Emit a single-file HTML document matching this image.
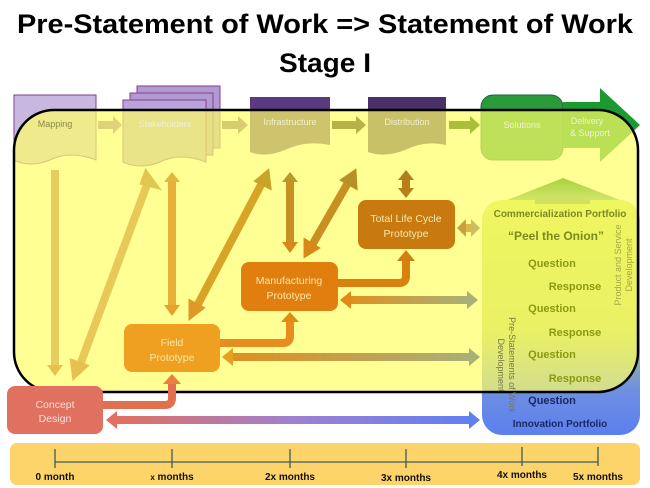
<!DOCTYPE html>
<html><head><meta charset="utf-8"><style>
html,body{margin:0;padding:0;background:#fff;}
svg{display:block;font-family:"Liberation Sans",sans-serif;}
</style></head><body>
<svg width="650" height="488" viewBox="0 0 650 488" xmlns="http://www.w3.org/2000/svg">
<defs>
<linearGradient id="port" x1="0" y1="0" x2="0" y2="1">
<stop offset="0" stop-color="#c8e050"/><stop offset="0.55" stop-color="#b8d060"/><stop offset="0.8" stop-color="#7090e0"/><stop offset="1" stop-color="#5b7ff0"/></linearGradient>
<linearGradient id="cp" x1="0" y1="0" x2="1" y2="0"><stop offset="0" stop-color="#e07060"/><stop offset="0.5" stop-color="#a080d0"/><stop offset="1" stop-color="#6080f0"/></linearGradient>
<linearGradient id="hz" x1="0" y1="0" x2="1" y2="0"><stop offset="0" stop-color="#e09020"/><stop offset="1" stop-color="#a8b078"/></linearGradient>
<linearGradient id="garr" x1="0" y1="0" x2="0" y2="1"><stop offset="0" stop-color="#a8d040"/><stop offset="1" stop-color="#d8ea70"/></linearGradient>
</defs>

<text x="325" y="33" text-anchor="middle" font-size="27" font-weight="bold" textLength="616" lengthAdjust="spacingAndGlyphs">Pre-Statement of Work =&gt; Statement of Work</text>
<text x="325" y="72" text-anchor="middle" font-size="27" font-weight="bold" textLength="92" lengthAdjust="spacingAndGlyphs">Stage I</text>

<path d="M14,95 H96 V160 Q70,150 50,160 Q30,168 14,160 Z" fill="#c8b8e0" stroke="#8a3a9a" stroke-width="1"/>
<path d="M137,86 H220 V148 H137 Z" fill="#b09ad0" stroke="#8a3a9a"/>
<path d="M130,93 H213 V155 H130 Z" fill="#b09ad0" stroke="#8a3a9a"/>
<path d="M123,100 H206 V162 Q180,152 160,162 Q140,170 123,162 Z" fill="#b8a4d8" stroke="#8a3a9a"/>
<path d="M250,97 H330 V145 Q305,140 285,150 Q265,158 250,152 Z" fill="#5a3a80"/>
<path d="M368,97 H446 V145 Q425,140 405,150 Q385,158 368,152 Z" fill="#4a3068"/>
<rect x="481" y="95" width="82" height="65" rx="12" fill="#2a9a3a" stroke="#1a6a3a"/>
<polygon points="563,102 600,102 600,88 640,125 600,162 600,148 563,148" fill="#1a9a30"/>

<rect x="482" y="200" width="158" height="235" rx="20" fill="url(#port)"/>

<rect x="14" y="110" width="624" height="282" rx="40" fill="#ffff66" fill-opacity="0.7" stroke="#000" stroke-width="2.5"/>

<polygon points="507,200 563,178 620,200 590,200 590,204 535,204 535,200" fill="url(#garr)"/>
<rect x="535" y="198" width="55" height="6" fill="#d0e060"/>

<g font-weight="bold" text-anchor="middle">
<text x="560" y="217" font-size="10" fill="#7a8a20">Commercialization Portfolio</text>
<text x="556" y="240" font-size="12" fill="#7a8a20">“Peel the Onion”</text>
<text x="552" y="267" font-size="11" fill="#8a9a10">Question</text>
<text x="575" y="290" font-size="11" fill="#8a9a10">Response</text>
<text x="552" y="312" font-size="11" fill="#8a9a10">Question</text>
<text x="575" y="336" font-size="11" fill="#8a9a10">Response</text>
<text x="552" y="358" font-size="11" fill="#8a9a10">Question</text>
<text x="575" y="382" font-size="11" fill="#8a9a10">Response</text>
<text x="552" y="404" font-size="11" fill="#1a2a60">Question</text>
<text x="560" y="427" font-size="10" fill="#1a2a60">Innovation Portfolio</text>
</g>
<g font-size="9" fill="#a8a840">
<text transform="translate(621,265) rotate(-90)" text-anchor="middle">Product and Service</text>
<text transform="translate(632,265) rotate(-90)" text-anchor="middle">Development</text>
</g>
<g font-size="9" fill="#7a7a40">
<text transform="translate(509,365) rotate(90)" text-anchor="middle">Pre-Statements of Work</text>
<text transform="translate(498,365) rotate(90)" text-anchor="middle">Development</text>
</g>

<g font-size="9" fill="#8a8a40">
<text x="55" y="127" text-anchor="middle">Mapping</text>
</g>
<g font-size="9" fill="#f0f0d0" text-anchor="middle">
<text x="165" y="127">Stakeholders</text>
<text x="290" y="125">Infrastructure</text>
<text x="407" y="125">Distribution</text>
<text x="522" y="128">Solutions</text>
<text x="587" y="124">Delivery</text>
<text x="590" y="136">&amp; Support</text>
</g>

<polygon points="98,121 113,121 113,116 122,125 113,134 113,129 98,129" fill="#e0d278"/>
<polygon points="222,121 238,121 238,116 248,125 238,134 238,129 222,129" fill="#d8cc70"/>
<polygon points="332,121 356,121 356,116 366,125 356,134 356,129 332,129" fill="#b8b048"/>
<polygon points="449,121 470,121 470,116 480,125 470,134 470,129 449,129" fill="#a8c038"/>

<g stroke-width="8" fill="none">
<line x1="55" y1="170" x2="55" y2="365" stroke="#e8cc60"/>
<polygon points="47,365 63,365 55,376" fill="#e8c050" stroke="none"/>
<line x1="148" y1="182" x2="80" y2="365" stroke="#e8c858"/>
<polygon points="146,172 157,187 142,183" fill="#e0c850" stroke="#e0c850" stroke-width="4"/>
<polygon points="74,377 72,361 86,366" fill="#e8c050" stroke="#e8c050" stroke-width="4"/>
<line x1="172" y1="180" x2="172" y2="307" stroke="#e8b038"/>
<polygon points="164,182 180,182 172,172" fill="#e0b840" stroke="none"/>
<polygon points="164,305 180,305 172,316" fill="#e8a030" stroke="none"/>
<line x1="263" y1="181" x2="196" y2="308" stroke="#d8a428"/>
<polygon points="268,171 270,188 256,181" fill="#c8a428" stroke="#c8a428" stroke-width="3"/>
<polygon points="190,318 190,301 203,308" fill="#e09828" stroke="#e09828" stroke-width="3"/>
<line x1="290" y1="180" x2="290" y2="244" stroke="#c89020"/>
<polygon points="282,182 298,182 290,172" fill="#b89828" stroke="none"/>
<polygon points="282,242 298,242 290,253" fill="#d88818" stroke="none"/>
<line x1="349" y1="181" x2="311" y2="247" stroke="#c89020"/>
<polygon points="355,171 356,188 342,180" fill="#b89028" stroke="#b89028" stroke-width="3"/>
<polygon points="305,256 305,240 318,248" fill="#d88818" stroke="#d88818" stroke-width="3"/>
<line x1="406" y1="178" x2="406" y2="190" stroke="#b88018"/>
<polygon points="398,180 414,180 406,170" fill="#b08020" stroke="none"/>
<polygon points="398,188 414,188 406,198" fill="#b88018" stroke="none"/>
<rect x="464" y="224" width="9" height="8" fill="#d8b848" stroke="none"/>
<polygon points="466,219 466,237 457,228" fill="#c8a040" stroke="none"/>
<polygon points="471,219 471,237 480,228" fill="#c8c060" stroke="none"/>
<rect x="350" y="296" width="118" height="8" fill="url(#hz)" stroke="none"/>
<polygon points="351,291 351,309 340,300" fill="#e08818" stroke="none"/>
<polygon points="467,291 467,309 478,300" fill="#a8b078" stroke="none"/>
<rect x="232" y="353" width="238" height="8" fill="url(#hz)" stroke="none"/>
<polygon points="233,348 233,366 222,357" fill="#e8a020" stroke="none"/>
<polygon points="469,348 469,366 480,357" fill="#a8b078" stroke="none"/>
<rect x="116" y="416" width="354" height="8" fill="url(#cp)" stroke="none"/>
<polygon points="117,411 117,429 106,420" fill="#e07060" stroke="none"/>
<polygon points="469,411 469,429 480,420" fill="#6080f0" stroke="none"/>
<path d="M103,405 H165 Q172,405 172,398 V382" stroke="#e07050"/>
<polygon points="163,384 181,384 172,374" fill="#e88040" stroke="none"/>
<path d="M220,343 H283 Q290,343 290,336 V320" stroke="#e88c20"/>
<polygon points="281,322 299,322 290,312" fill="#e08a18" stroke="none"/>
<path d="M337,283 H399 Q406,283 406,276 V259" stroke="#d88010"/>
<polygon points="397,261 415,261 406,250" fill="#d08010" stroke="none"/>
</g>

<rect x="358" y="200" width="97" height="49" rx="8" fill="#c87a10"/>
<rect x="241" y="262" width="97" height="49" rx="8" fill="#e07e10"/>
<rect x="124" y="324" width="96" height="48" rx="8" fill="#f0a020"/>
<rect x="7" y="386" width="96" height="48" rx="8" fill="#e07060"/>
<g font-size="10.5" fill="#f8e8a8" text-anchor="middle">
<text x="406" y="222">Total Life Cycle</text>
<text x="406" y="237">Prototype</text>
<text x="289" y="284">Manufacturing</text>
<text x="289" y="299">Prototype</text>
<text x="172" y="346">Field</text>
<text x="172" y="361">Prototype</text>
<text x="55" y="408" fill="#f8e0d8">Concept</text>
<text x="55" y="422" fill="#f8e0d8">Design</text>
</g>

<rect x="10" y="443" width="630" height="42" rx="7" fill="#fcd46a"/>
<g stroke="#3a5a60" stroke-width="1.3">
<line x1="55" y1="462" x2="598" y2="462"/>
<line x1="55" y1="449" x2="55" y2="468"/>
<line x1="172" y1="449" x2="172" y2="468"/>
<line x1="290" y1="449" x2="290" y2="468"/>
<line x1="406" y1="449" x2="406" y2="468"/>
<line x1="522" y1="447" x2="522" y2="466"/>
<line x1="598" y1="447" x2="598" y2="466"/>
</g>
<g font-size="10" font-weight="bold" fill="#111" text-anchor="middle">
<text x="55" y="480">0 month</text>
<text x="172" y="480"><tspan font-size="8">x</tspan> months</text>
<text x="290" y="480">2x months</text>
<text x="406" y="481">3x months</text>
<text x="522" y="478">4x months</text>
<text x="598" y="480">5x months</text>
</g>
</svg>
</body></html>
